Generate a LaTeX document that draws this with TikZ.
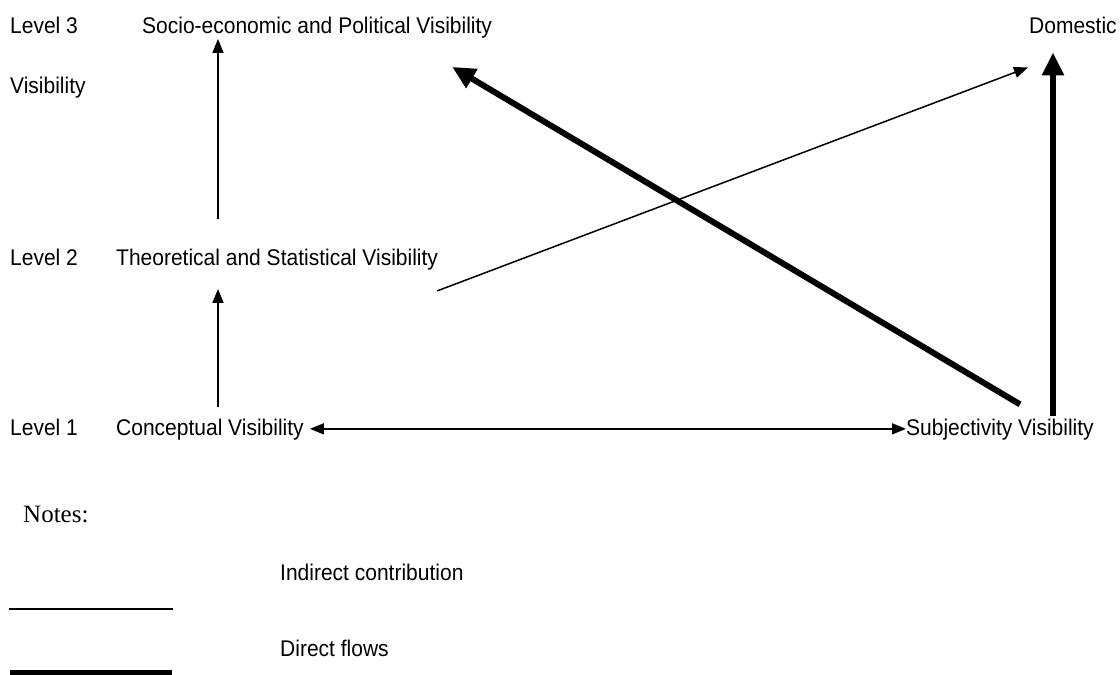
\documentclass[tikz,border=0pt]{standalone}
\usepackage{graphicx}
\usepackage{fontspec}
\setmainfont{Liberation Sans}
\newfontfamily\notesfamily{Liberation Serif}
\usetikzlibrary{arrows.meta,calc}

% slightly taller sans labels
\newcommand{\tall}[1]{\scalebox{1}[1.08]{#1}}

\tikzset{
  lbl/.style={inner sep=0pt, anchor=base west, font=\fontsize{21}{25}\selectfont},
  notehead/.style={inner sep=0pt, anchor=base west, font=\notesfamily\fontsize{25}{30}\selectfont},
  thinhead/.tip={Triangle[length=14pt,width=11pt]},
  thickhead/.tip={Triangle[length=23pt,width=21pt]},
  indirect/.style={line width=1.5pt, -thinhead},
  direct/.style={line width=6pt, -thickhead},
}

\begin{document}
\begin{tikzpicture}[x=1pt,y=-1pt]
  \useasboundingbox (0,0) rectangle (1120,675);

  % level captions
  \node[lbl] (lvl3) at (10,33)  {\tall{Level 3}};
  \node[lbl] (vis)  at (10,93)  {\tall{Visibility}};
  \node[lbl] (lvl2) at (10,265) {\tall{Level 2}};
  \node[lbl] (lvl1) at (10,435) {\tall{Level 1}};

  % visibility kinds
  \node[lbl] (socio)   at (142,33)  {\tall{Socio-economic and Political Visibility}};
  \node[lbl] (dom)     at (1029,33) {\tall{Domestic}};
  \node[lbl] (theo)    at (116,265) {\tall{Theoretical and Statistical Visibility}};
  \node[lbl] (concept) at (116,435) {\tall{Conceptual Visibility}};
  \node[lbl] (subj)    at (906,435) {\tall{Subjectivity Visibility}};

  % columns of the vertical connectors
  \coordinate (colA) at (218,0);
  \coordinate (colD) at (1053,0);

  % indirect contributions
  \draw[indirect] ($(concept.north -| colA)+(0,-11)$) -- ($(theo.south -| colA)+(0,19)$);
  \draw[indirect] ($(theo.north -| colA)+(0,-29)$) -- ($(socio.south -| colA)+(0,1)$);
  \draw[indirect, thinhead-thinhead] ($(concept.mid east)+(6,-3.5)$) -- ($(subj.mid west)+(0,-3.5)$);
  \draw[indirect] ($(theo.south east)+(-1,21)$) -- ($(dom.south west)+(-1,34)$);

  % direct flows
  \draw[direct] ($(subj.north west)+(114,-14)$) -- ($(socio.south east)+(-40,29)$);
  \draw[direct] ($(subj.north -| colD)+(0,-2)$) -- ($(dom.south -| colD)+(0,19)$);

  % legend
  \node[notehead] (notes) at (23,522) {Notes:};
  \node[lbl] (lindir) at (280,580) {\tall{Indirect contribution}};
  \node[lbl] (ldir)   at (280,656) {\tall{Direct flows}};
  \coordinate (thinA) at (9,609);
  \coordinate (thinB) at (173,609);
  \coordinate (thickA) at (10,673);
  \coordinate (thickB) at (172,673);
  \draw[line width=1.5pt] (thinA) -- (thinB);
  \draw[line width=6pt] (thickA) -- (thickB);
\end{tikzpicture}
\end{document}
